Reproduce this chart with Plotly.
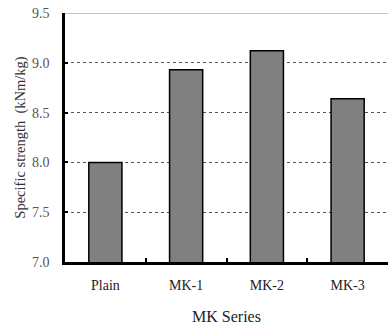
import plotly.graph_objects as go

categories = ["Plain", "MK-1", "MK-2", "MK-3"]
specific_strength = [8.00, 8.93, 9.12, 8.64]
y_ticks = [7.0, 7.5, 8.0, 8.5, 9.0, 9.5]
y_tick_text = ["7.0", "7.5", "8.0", "8.5", "9.0", "9.5"]

font_family = "Liberation Serif, Times New Roman, serif"

fig = go.Figure(
    go.Bar(
        x=categories,
        y=specific_strength,
        width=0.41,
        marker=dict(color="#808080", line=dict(color="#000000", width=1.5)),
    )
)

fig.update_layout(
    width=388,
    height=329,
    margin=dict(l=65, r=0, t=13, b=67),
    paper_bgcolor="white",
    plot_bgcolor="white",
    showlegend=False,
    font=dict(family=font_family, color="#000000"),
    xaxis=dict(
        title=dict(text="MK Series", font=dict(size=16, family=font_family, color="#222"), standoff=20),
        tickfont=dict(size=14, family=font_family, color="#222"),
        ticklabelstandoff=8,
        showline=True,
        linecolor="#000000",
        linewidth=2.5,
        tickson="boundaries",
        ticks="inside",
        ticklen=4,
        tickwidth=2,
        tickcolor="#000000",
        showgrid=False,
        range=[-0.5, 3.5],
    ),
    yaxis=dict(
        title=dict(text="Specific strength  (kNm/kg)", font=dict(size=14.5, family=font_family, color="#333"), standoff=3),
        tickfont=dict(size=14, family=font_family, color="#555"),
        ticklabelstandoff=10,
        range=[7.0, 9.5],
        tickvals=y_ticks,
        ticktext=y_tick_text,
        showline=True,
        linecolor="#000000",
        linewidth=2.5,
        ticks="inside",
        ticklen=3,
        tickwidth=2,
        tickcolor="#000000",
        showgrid=True,
        gridcolor="#555555",
        gridwidth=1,
        griddash="dot",
        zeroline=False,
    ),
)

# thin solid border along the top of the plot area
fig.add_shape(
    type="line", xref="paper", yref="y",
    x0=0, x1=1, y0=9.5, y1=9.5,
    line=dict(color="#888888", width=1),
)

fig.write_html("out.html")
